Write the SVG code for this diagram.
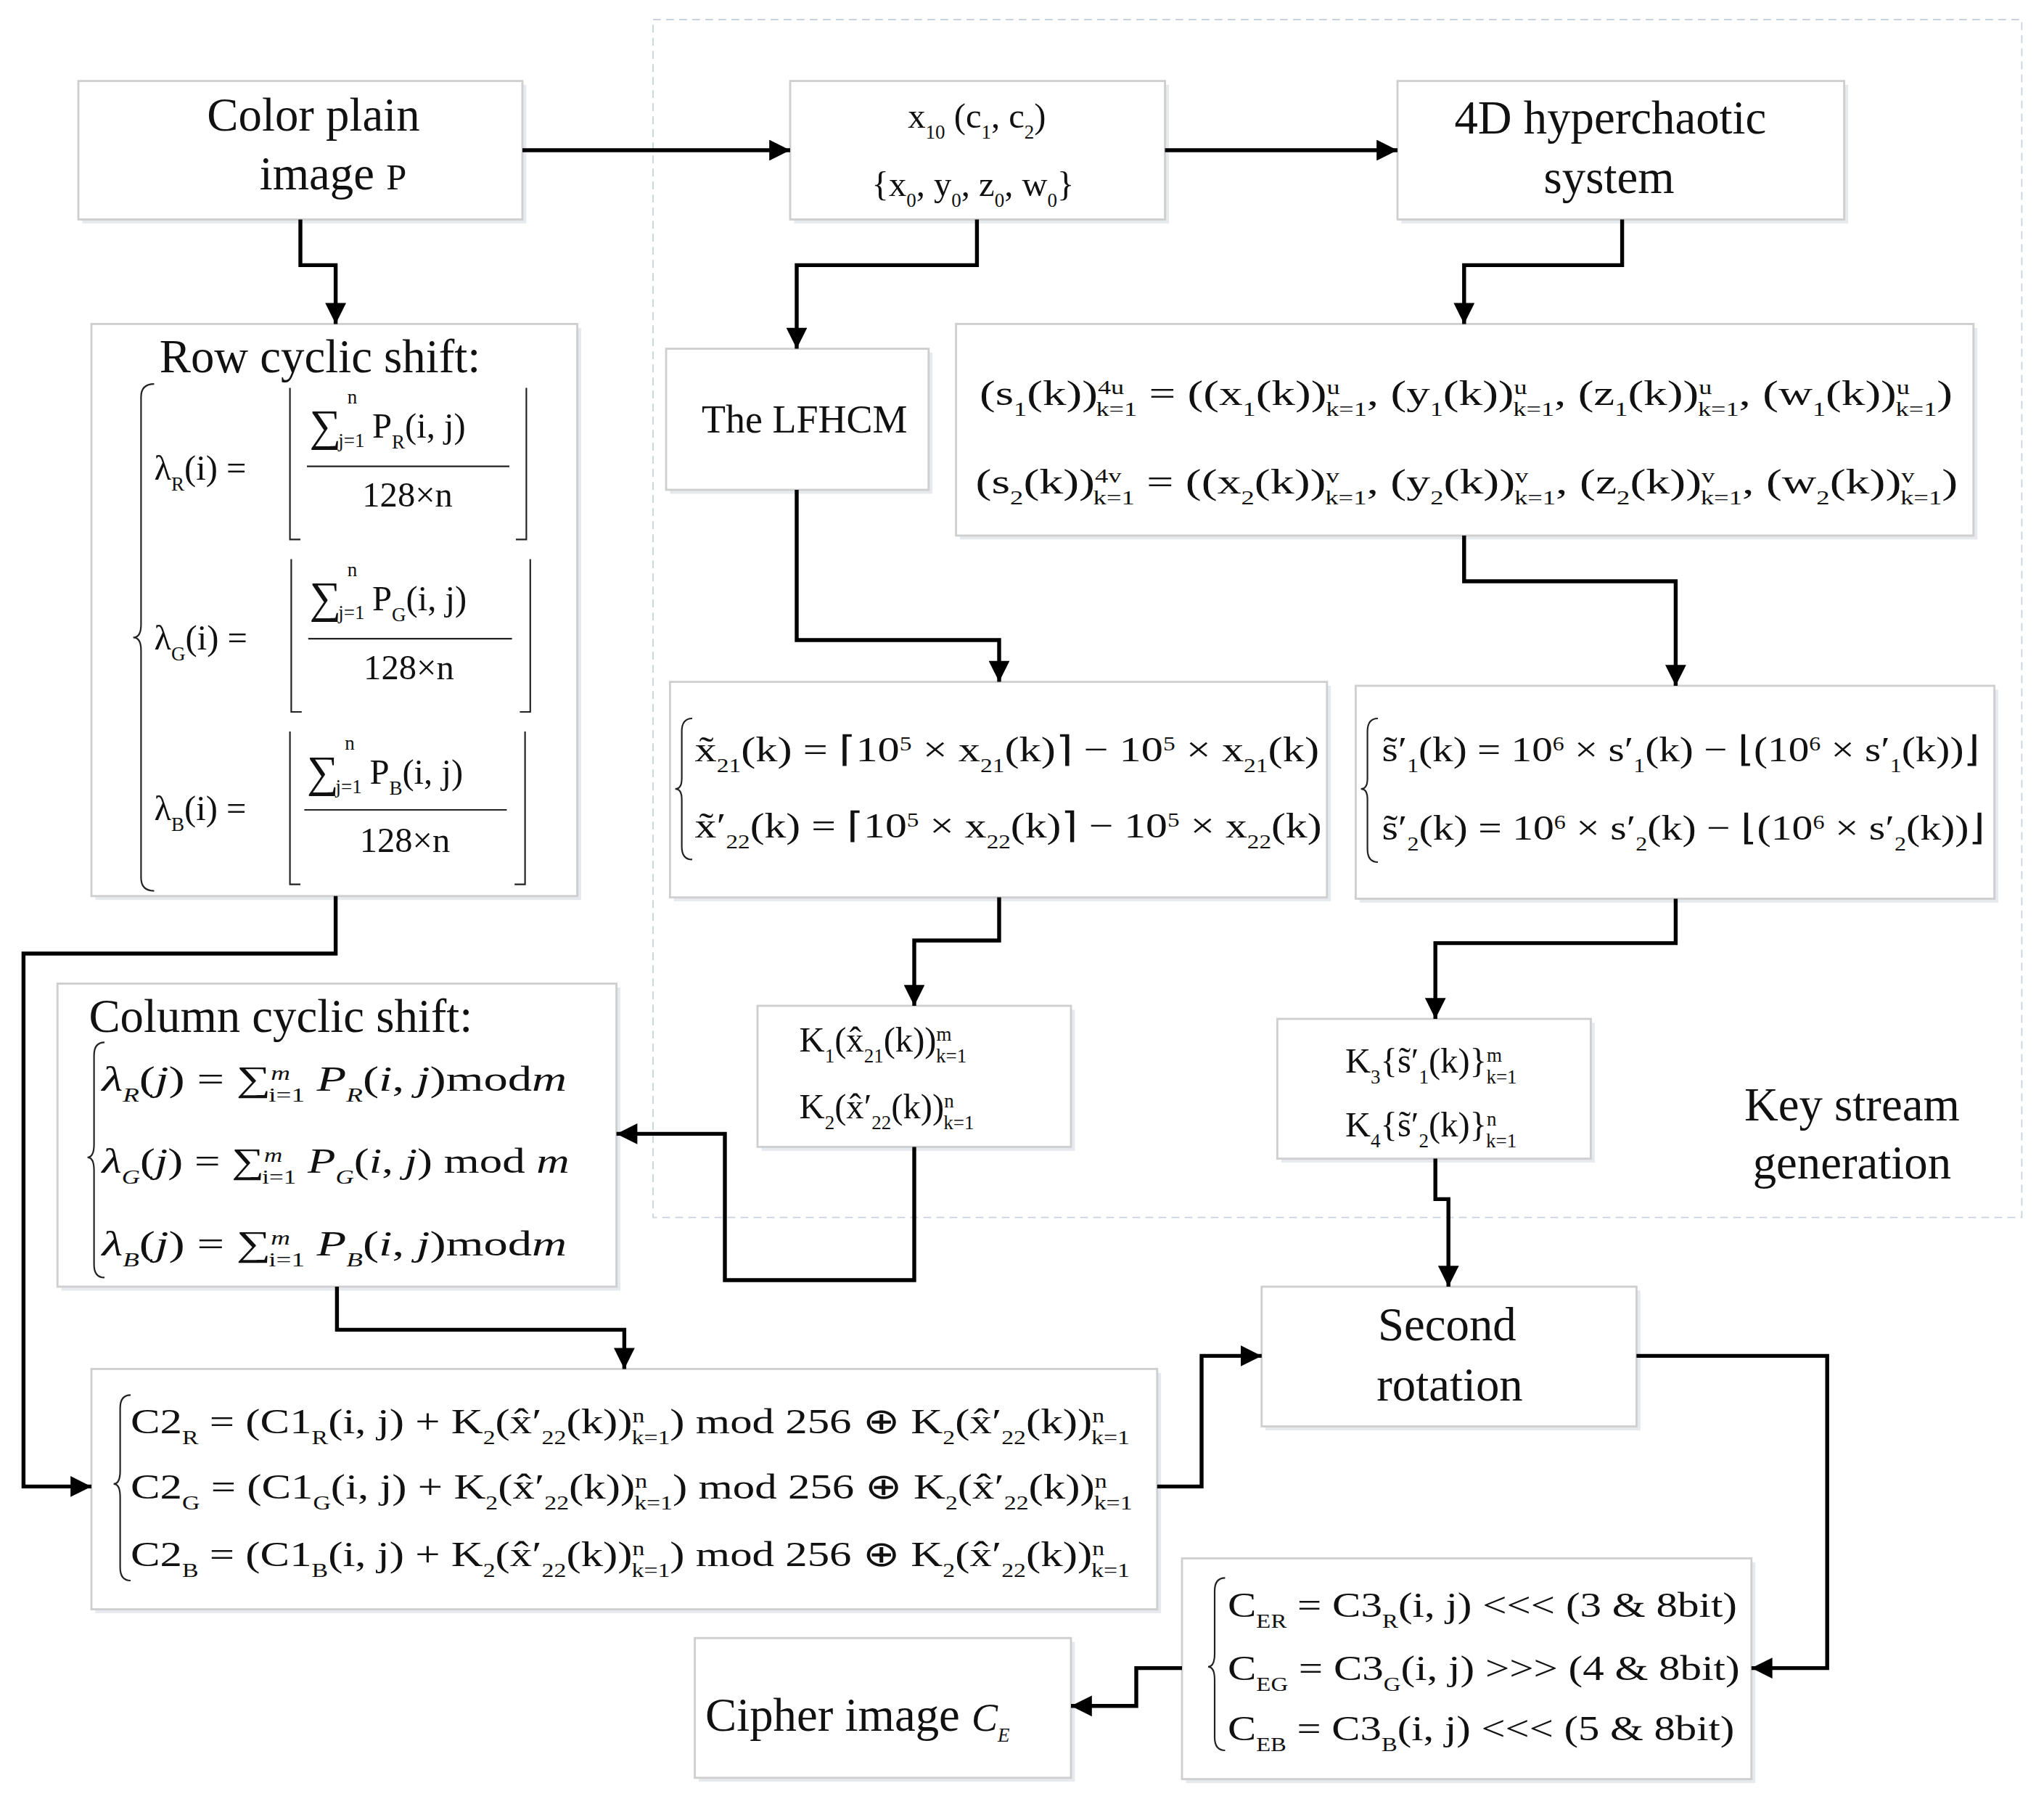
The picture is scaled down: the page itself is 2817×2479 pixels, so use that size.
<svg xmlns="http://www.w3.org/2000/svg" width="2817" height="2479" viewBox="0 0 2817 2479">
<defs>
<style>
.box{fill:#fff;stroke:#cfcfcf;stroke-width:1.6}
.sh{fill:#e6e9ee}
.t{font-family:"Liberation Serif",serif;fill:#111}
.big{font-size:36px}
.eq{font-size:27px}
.i{font-style:italic}
.sb{font-size:15px;baseline-shift:sub}
.sp{font-size:15px;baseline-shift:super}
.br{fill:none;stroke:#222;stroke-width:1.2}
.c{fill:none;stroke:#000;stroke-width:3}
</style>
<marker id="a" viewBox="0 0 10 10" refX="10" refY="5" markerWidth="20" markerHeight="16" markerUnits="userSpaceOnUse" orient="auto"><path d="M0,0L10,5L0,10z" fill="#000"/></marker>
</defs>
<rect width="2817" height="2479" fill="#fff"/>
<g transform="scale(1.8)">
<rect x="500" y="15" width="1048" height="917" fill="none" stroke="#c8d3dd" stroke-width="1" stroke-dasharray="6,4"/>
<text class="t big" x="1418" y="858" text-anchor="middle">Key stream</text>
<text class="t big" x="1418" y="902" text-anchor="middle">generation</text>

<g id="n_plain"><rect class="sh" x="63" y="65" width="340" height="106"/><rect class="box" x="60" y="62" width="340" height="106"/>
<text class="t big" x="240" y="100" text-anchor="middle">Color plain</text><text class="t big" x="255" y="145" text-anchor="middle">image <tspan font-size="28">P</tspan></text></g>

<g id="n_x10"><rect class="sh" x="608" y="65" width="287" height="106"/><rect class="box" x="605" y="62" width="287" height="106"/>
<text class="t eq" x="748" y="98" text-anchor="middle">x<tspan class="sb">10</tspan>   (c<tspan class="sb">1</tspan>, c<tspan class="sb">2</tspan>)</text>
<text class="t eq" x="745" y="150" text-anchor="middle">{x<tspan class="sb">0</tspan>, y<tspan class="sb">0</tspan>, z<tspan class="sb">0</tspan>, w<tspan class="sb">0</tspan>}</text></g>

<g id="n_4d"><rect class="sh" x="1073" y="65" width="342" height="106"/><rect class="box" x="1070" y="62" width="342" height="106"/>
<text class="t big" x="1233" y="102" text-anchor="middle">4D hyperchaotic</text><text class="t big" x="1232" y="148" text-anchor="middle">system</text></g>

<g id="n_row"><rect class="sh" x="73" y="251" width="372" height="438"/><rect class="box" x="70" y="248" width="372" height="438"/>
<text class="t big" x="245" y="285" text-anchor="middle">Row  cyclic shift:</text>
<path class="br" d="M118,294 Q108,294 108,304 V478 Q108,488 102,488 Q108,488 108,498 V672 Q108,682 118,682"/>
<g class="t eq">
<text x="118" y="367">λ<tspan class="sb">R</tspan>(i) =</text>
<text x="237" y="337" font-size="34">∑</text><text x="259" y="342" font-size="15">j=1</text><text x="266" y="309" font-size="15">n</text><text x="285" y="335">P<tspan class="sb">R</tspan>(i, j)</text>
<text x="312" y="388" text-anchor="middle">128×n</text>
<text x="118" y="497">λ<tspan class="sb">G</tspan>(i) =</text>
<text x="237" y="469" font-size="34">∑</text><text x="259" y="474" font-size="15">j=1</text><text x="266" y="441" font-size="15">n</text><text x="285" y="467">P<tspan class="sb">G</tspan>(i, j)</text>
<text x="313" y="520" text-anchor="middle">128×n</text>
<text x="118" y="628">λ<tspan class="sb">B</tspan>(i) =</text>
<text x="235" y="602" font-size="34">∑</text><text x="257" y="607" font-size="15">j=1</text><text x="264" y="574" font-size="15">n</text><text x="283" y="600">P<tspan class="sb">B</tspan>(i, j)</text>
<text x="310" y="652" text-anchor="middle">128×n</text>
</g>
<g class="br"><path d="M235,357H390M236,489H392M233,620H388"/>
<path d="M222,297V413H230M403,297V413H395"/><path d="M223,428V545H231M406,428V545H398"/><path d="M222,560V677H230M402,560V677H394"/></g></g>

<g id="n_lfhcm"><rect class="sh" x="513" y="270" width="201" height="108"/><rect class="box" x="510" y="267" width="201" height="108"/>
<text class="t" font-size="30" x="616" y="331" text-anchor="middle">The LFHCM</text></g>

<g id="n_s"><rect class="sh" x="735" y="251" width="779" height="162"/><rect class="box" x="732" y="248" width="779" height="162"/>
<text class="t eq" x="750" y="310" textLength="745" lengthAdjust="spacingAndGlyphs">(s<tspan class="sb">1</tspan>(k))<tspan class="sp">4u</tspan><tspan class="sb" dx="-16">k=1</tspan> = ((x<tspan class="sb">1</tspan>(k))<tspan class="sp">u</tspan><tspan class="sb" dx="-8">k=1</tspan>, (y<tspan class="sb">1</tspan>(k))<tspan class="sp">u</tspan><tspan class="sb" dx="-8">k=1</tspan>, (z<tspan class="sb">1</tspan>(k))<tspan class="sp">u</tspan><tspan class="sb" dx="-8">k=1</tspan>, (w<tspan class="sb">1</tspan>(k))<tspan class="sp">u</tspan><tspan class="sb" dx="-8">k=1</tspan>)</text>
<text class="t eq" x="747" y="378" textLength="752" lengthAdjust="spacingAndGlyphs">(s<tspan class="sb">2</tspan>(k))<tspan class="sp">4v</tspan><tspan class="sb" dx="-16">k=1</tspan> = ((x<tspan class="sb">2</tspan>(k))<tspan class="sp">v</tspan><tspan class="sb" dx="-8">k=1</tspan>, (y<tspan class="sb">2</tspan>(k))<tspan class="sp">v</tspan><tspan class="sb" dx="-8">k=1</tspan>, (z<tspan class="sb">2</tspan>(k))<tspan class="sp">v</tspan><tspan class="sb" dx="-8">k=1</tspan>, (w<tspan class="sb">2</tspan>(k))<tspan class="sp">v</tspan><tspan class="sb" dx="-8">k=1</tspan>)</text></g>

<g id="n_xt"><rect class="sh" x="516" y="525" width="503" height="165"/><rect class="box" x="513" y="522" width="503" height="165"/>
<path class="br" d="M530,550 Q522,550 522,560 V596 Q522,604 517,604 Q522,604 522,612 V648 Q522,658 530,658"/>
<text class="t eq" x="532" y="583" textLength="478" lengthAdjust="spacingAndGlyphs">x̃<tspan class="sb">21</tspan>(k) = ⌈10<tspan class="sp">5</tspan> × x<tspan class="sb">21</tspan>(k)⌉ − 10<tspan class="sp">5</tspan> × x<tspan class="sb">21</tspan>(k)</text>
<text class="t eq" x="532" y="641" textLength="480" lengthAdjust="spacingAndGlyphs">x̃′<tspan class="sb">22</tspan>(k) = ⌈10<tspan class="sp">5</tspan> × x<tspan class="sb">22</tspan>(k)⌉ − 10<tspan class="sp">5</tspan> × x<tspan class="sb">22</tspan>(k)</text></g>

<g id="n_st"><rect class="sh" x="1041" y="528" width="489" height="163"/><rect class="box" x="1038" y="525" width="489" height="163"/>
<path class="br" d="M1055,550 Q1047,550 1047,560 V596 Q1047,604 1042,604 Q1047,604 1047,612 V650 Q1047,660 1055,660"/>
<text class="t eq" x="1058" y="583" textLength="458" lengthAdjust="spacingAndGlyphs">s̃′<tspan class="sb">1</tspan>(k) = 10<tspan class="sp">6</tspan> × s′<tspan class="sb">1</tspan>(k) − ⌊(10<tspan class="sp">6</tspan> × s′<tspan class="sb">1</tspan>(k))⌋</text>
<text class="t eq" x="1058" y="643" textLength="462" lengthAdjust="spacingAndGlyphs">s̃′<tspan class="sb">2</tspan>(k) = 10<tspan class="sp">6</tspan> × s′<tspan class="sb">2</tspan>(k) − ⌊(10<tspan class="sp">6</tspan> × s′<tspan class="sb">2</tspan>(k))⌋</text></g>

<g id="n_k1"><rect class="sh" x="583" y="773" width="240" height="108"/><rect class="box" x="580" y="770" width="240" height="108"/>
<text class="t eq" x="612" y="805">K<tspan class="sb">1</tspan>(x̂<tspan class="sb">21</tspan>(k))<tspan class="sp">m</tspan><tspan class="sb" dx="-12">k=1</tspan></text>
<text class="t eq" x="612" y="856">K<tspan class="sb">2</tspan>(x̂′<tspan class="sb">22</tspan>(k))<tspan class="sp">n</tspan><tspan class="sb" dx="-8">k=1</tspan></text></g>

<g id="n_k3"><rect class="sh" x="981" y="783" width="240" height="107"/><rect class="box" x="978" y="780" width="240" height="107"/>
<text class="t eq" x="1030" y="821">K<tspan class="sb">3</tspan>{s̃′<tspan class="sb">1</tspan>(k)}<tspan class="sp">m</tspan><tspan class="sb" dx="-12">k=1</tspan></text>
<text class="t eq" x="1030" y="870">K<tspan class="sb">4</tspan>{s̃′<tspan class="sb">2</tspan>(k)}<tspan class="sp">n</tspan><tspan class="sb" dx="-8">k=1</tspan></text></g>

<g id="n_col"><rect class="sh" x="47" y="756" width="428" height="232"/><rect class="box" x="44" y="753" width="428" height="232"/>
<text class="t big" x="68" y="790">Column cyclic shift:</text>
<path class="br" d="M80,798 Q72,798 72,808 V876 Q72,886 67,886 Q72,886 72,896 V968 Q72,978 80,978"/>
<g class="t eq">
<text x="78" y="835" textLength="356" lengthAdjust="spacingAndGlyphs"><tspan class="i">λ</tspan><tspan class="sb i">R</tspan>(<tspan class="i">j</tspan>) = ∑<tspan class="sp i">m</tspan><tspan class="sb" dx="-12">i=1</tspan> <tspan class="i">P</tspan><tspan class="sb i">R</tspan>(<tspan class="i">i</tspan>, <tspan class="i">j</tspan>)mod<tspan class="i">m</tspan></text>
<text x="78" y="898" textLength="358" lengthAdjust="spacingAndGlyphs"><tspan class="i">λ</tspan><tspan class="sb i">G</tspan>(<tspan class="i">j</tspan>) = ∑<tspan class="sp i">m</tspan><tspan class="sb" dx="-12">i=1</tspan> <tspan class="i">P</tspan><tspan class="sb i">G</tspan>(<tspan class="i">i</tspan>, <tspan class="i">j</tspan>) mod <tspan class="i">m</tspan></text>
<text x="78" y="961" textLength="356" lengthAdjust="spacingAndGlyphs"><tspan class="i">λ</tspan><tspan class="sb i">B</tspan>(<tspan class="i">j</tspan>) = ∑<tspan class="sp i">m</tspan><tspan class="sb" dx="-12">i=1</tspan> <tspan class="i">P</tspan><tspan class="sb i">B</tspan>(<tspan class="i">i</tspan>, <tspan class="i">j</tspan>)mod<tspan class="i">m</tspan></text>
</g></g>

<g id="n_rot"><rect class="sh" x="969" y="988" width="287" height="107"/><rect class="box" x="966" y="985" width="287" height="107"/>
<text class="t big" x="1108" y="1026" text-anchor="middle">Second</text><text class="t big" x="1110" y="1072" text-anchor="middle">rotation</text></g>

<g id="n_c2"><rect class="sh" x="73" y="1051" width="816" height="184"/><rect class="box" x="70" y="1048" width="816" height="184"/>
<path class="br" d="M100,1068 Q92,1068 92,1078 V1126 Q92,1136 87,1136 Q92,1136 92,1146 V1200 Q92,1210 100,1210"/>
<g class="t eq">
<text x="100" y="1097" textLength="765" lengthAdjust="spacingAndGlyphs">C2<tspan class="sb">R</tspan> = (C1<tspan class="sb">R</tspan>(i, j) + K<tspan class="sb">2</tspan>(x̂′<tspan class="sb">22</tspan>(k))<tspan class="sp">n</tspan><tspan class="sb" dx="-8">k=1</tspan>) mod 256 ⊕ K<tspan class="sb">2</tspan>(x̂′<tspan class="sb">22</tspan>(k))<tspan class="sp">n</tspan><tspan class="sb" dx="-8">k=1</tspan></text>
<text x="100" y="1147" textLength="767" lengthAdjust="spacingAndGlyphs">C2<tspan class="sb">G</tspan> = (C1<tspan class="sb">G</tspan>(i, j) + K<tspan class="sb">2</tspan>(x̂′<tspan class="sb">22</tspan>(k))<tspan class="sp">n</tspan><tspan class="sb" dx="-8">k=1</tspan>) mod 256 ⊕ K<tspan class="sb">2</tspan>(x̂′<tspan class="sb">22</tspan>(k))<tspan class="sp">n</tspan><tspan class="sb" dx="-8">k=1</tspan></text>
<text x="100" y="1199" textLength="765" lengthAdjust="spacingAndGlyphs">C2<tspan class="sb">B</tspan> = (C1<tspan class="sb">B</tspan>(i, j) + K<tspan class="sb">2</tspan>(x̂′<tspan class="sb">22</tspan>(k))<tspan class="sp">n</tspan><tspan class="sb" dx="-8">k=1</tspan>) mod 256 ⊕ K<tspan class="sb">2</tspan>(x̂′<tspan class="sb">22</tspan>(k))<tspan class="sp">n</tspan><tspan class="sb" dx="-8">k=1</tspan></text>
</g></g>

<g id="n_ce"><rect class="sh" x="908" y="1196" width="436" height="169"/><rect class="box" x="905" y="1193" width="436" height="169"/>
<path class="br" d="M938,1208 Q930,1208 930,1218 V1266 Q930,1276 925,1276 Q930,1276 930,1286 V1330 Q930,1340 938,1340"/>
<g class="t eq">
<text x="940" y="1238" textLength="390" lengthAdjust="spacingAndGlyphs">C<tspan class="sb">ER</tspan> = C3<tspan class="sb">R</tspan>(i, j) &lt;&lt;&lt; (3 &amp; 8bit)</text>
<text x="940" y="1286" textLength="392" lengthAdjust="spacingAndGlyphs">C<tspan class="sb">EG</tspan> = C3<tspan class="sb">G</tspan>(i, j) &gt;&gt;&gt; (4 &amp; 8bit)</text>
<text x="940" y="1332" textLength="388" lengthAdjust="spacingAndGlyphs">C<tspan class="sb">EB</tspan> = C3<tspan class="sb">B</tspan>(i, j) &lt;&lt;&lt; (5 &amp; 8bit)</text>
</g></g>

<g id="n_cipher"><rect class="sh" x="535" y="1257" width="288" height="107"/><rect class="box" x="532" y="1254" width="288" height="107"/>
<text class="t big" x="540" y="1325">Cipher image <tspan class="i" font-size="30">C</tspan><tspan class="i sb" font-size="17">E</tspan></text></g>

<g id="connectors" class="c">
<path marker-end="url(#a)" d="M400,115H605"/>
<path marker-end="url(#a)" d="M892,115H1070"/>
<path marker-end="url(#a)" d="M230,168V203H257V248"/>
<path marker-end="url(#a)" d="M748,168V203H610V267"/>
<path marker-end="url(#a)" d="M1242,168V203H1121V248"/>
<path marker-end="url(#a)" d="M610,375V490H765V522"/>
<path marker-end="url(#a)" d="M1121,410V445H1283V525"/>
<path marker-end="url(#a)" d="M765,687V720H700V770"/>
<path marker-end="url(#a)" d="M1283,688V722H1099V780"/>
<path marker-end="url(#a)" d="M700,878V980H555V868H472"/>
<path marker-end="url(#a)" d="M257,686V730H18V1138H70"/>
<path marker-end="url(#a)" d="M258,985V1018H478V1048"/>
<path marker-end="url(#a)" d="M1099,887V918H1109V985"/>
<path marker-end="url(#a)" d="M886,1138H920V1038H966"/>
<path marker-end="url(#a)" d="M1253,1038H1399V1277H1341"/>
<path marker-end="url(#a)" d="M905,1277H870V1306H820"/>
</g>
</g>
</svg>
